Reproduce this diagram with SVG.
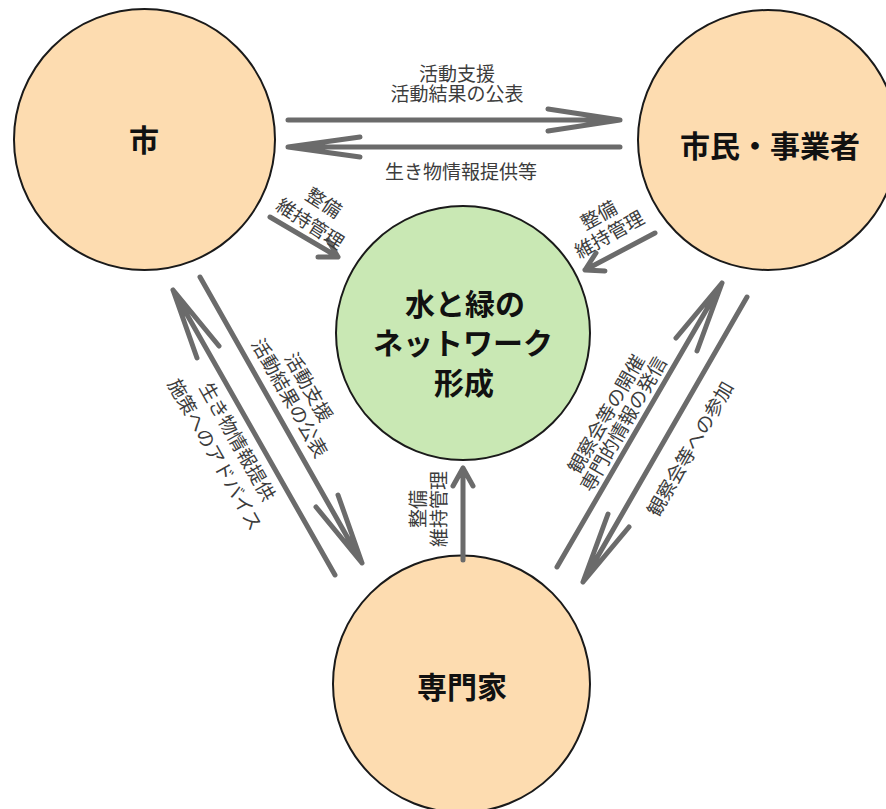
<svg xmlns="http://www.w3.org/2000/svg" width="886" height="809" viewBox="0 0 886 809">
<style>
.node{fill:#fddcb0;stroke:#1a1a1a;stroke-width:2}
.core{fill:#c9e8b4;stroke:#1a1a1a;stroke-width:2}
.big{font-family:"Noto Sans CJK JP","Noto Sans",sans-serif;font-weight:700;font-size:30px;fill:#111;text-anchor:middle;dominant-baseline:central}
.lbl{font-family:"Noto Sans CJK JP","Noto Sans",sans-serif;font-weight:400;font-size:19px;fill:#3c3c3c;text-anchor:middle;dominant-baseline:central}
.arr{fill:none;stroke:#6b6b6b;stroke-width:5;stroke-linecap:round;stroke-linejoin:round}
</style>
<rect width="886" height="809" fill="#fff"/>
<g id="node-city"><circle class="node" cx="144.5" cy="139.5" r="130.5"/><text class="big" x="144" y="138">市</text></g>
<g id="node-citizens"><circle class="node" cx="768" cy="140" r="130"/><text class="big" x="770" y="144">市民・事業者</text></g>
<g id="node-core"><circle class="core" cx="463" cy="333" r="127"/><text class="big" x="465" y="302">水と緑の</text><text class="big" x="463" y="341">ネットワーク</text><text class="big" x="464" y="381">形成</text></g>
<g id="node-experts"><circle class="node" cx="461.5" cy="684" r="128.5"/><text class="big" x="462" y="685">専門家</text></g>
<g id="connectors">
<path class="arr" d="M288,120 L620,120 M548,109 L620,120 L548,131"/>
<path class="arr" d="M620,147 L288,147 M360,137 L288,147 L360,157"/>
<path class="arr" d="M335,575 L173,290 M197,358 L173,290 L219,346"/>
<path class="arr" d="M200,277 L362,563 M338,495 L362,563 L316,507"/>
<path class="arr" d="M557,567 L722,283 M697,351 L722,283 L676,338"/>
<path class="arr" d="M747,297 L583,582 M629,527 L583,582 L608,514"/>
<path class="arr" d="M270,217 L338,257 M328,240 L338,257 L318,257"/>
<path class="arr" d="M655,233 L585,270 M605,271 L585,270 L596,253"/>
<path class="arr" d="M463,560 L463,468 M453,486 L463,468 L473,486"/>
</g>
<g id="labels">
<text class="lbl" x="457" y="72">活動支援</text>
<text class="lbl" x="457" y="92">活動結果の公表</text>
<text class="lbl" x="461" y="170">生き物情報提供等</text>
<text class="lbl" transform="translate(318,211.5) rotate(33)"><tspan x="0" y="-12.5">整備</tspan><tspan x="0" y="12.5">維持管理</tspan></text>
<text class="lbl" transform="translate(603,223) rotate(-29)"><tspan x="0" y="-11">整備</tspan><tspan x="0" y="11">維持管理</tspan></text>
<text class="lbl" transform="translate(301,391.5) rotate(60.5)"><tspan x="0" y="-11">活動支援</tspan><tspan x="0" y="11">活動結果の公表</tspan></text>
<text class="lbl" transform="translate(228,447) rotate(60.5)"><tspan x="0" y="-13">生き物情報提供</tspan><tspan x="0" y="13">施策へのアドバイス</tspan></text>
<text class="lbl" transform="translate(613,418) rotate(-60)"><tspan x="0" y="-10">観察会等の開催</tspan><tspan x="0" y="10">専門的情報の発信</tspan></text>
<text class="lbl" transform="translate(689,448) rotate(-60)">観察会等への参加</text>
<text class="lbl" transform="translate(426.5,509) rotate(-90)"><tspan x="0" y="-10.5">整備</tspan><tspan x="0" y="10.5">維持管理</tspan></text>
</g>
</svg>
